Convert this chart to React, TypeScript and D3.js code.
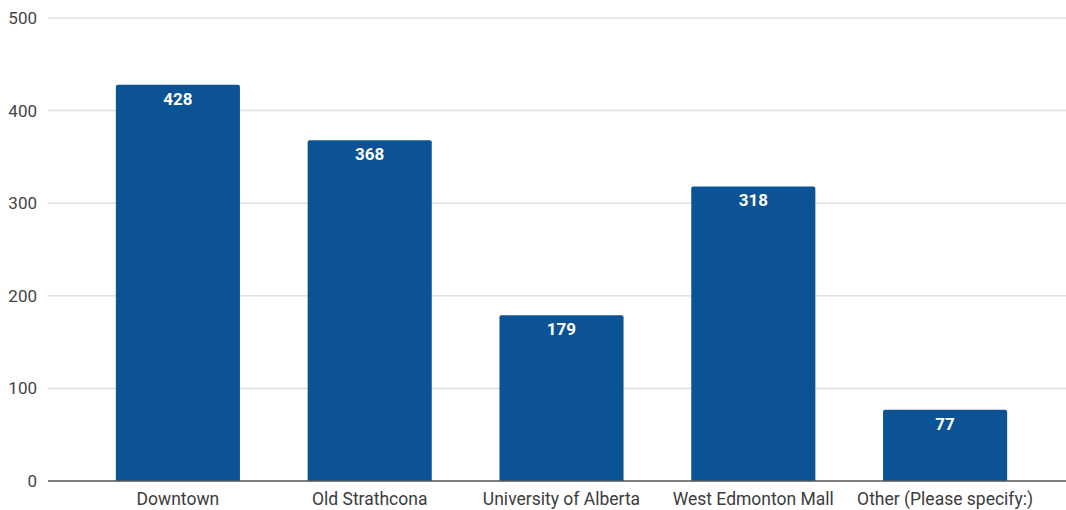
import React from "react";
import * as d3 from "d3";

const categories = [
  "Downtown",
  "Old Strathcona",
  "University of Alberta",
  "West Edmonton Mall",
  "Other (Please specify:)",
];
const counts = [428, 368, 179, 318, 77];
const yTicks = [0, 100, 200, 300, 400, 500];

const W = 1066;
const H = 510;

export default function App() {
  const x = d3
    .scaleBand<string>()
    .domain(categories)
    .range([82, 1041])
    .paddingInner(0.353)
    .paddingOuter(0.1765);
  const y = d3.scaleLinear().domain([0, 500]).range([481, 18]);
  const bw = x.bandwidth();
  const r = 2;

  const barPath = (x0: number, y0: number, w: number, h: number) =>
    `M${x0},${y0 + h}V${y0 + r}Q${x0},${y0} ${x0 + r},${y0}H${x0 + w - r}Q${x0 + w},${y0} ${x0 + w},${y0 + r}V${y0 + h}Z`;

  return (
    <svg
      width={W}
      height={H}
      style={{ position: "absolute", left: 0, top: 0, background: "#fff" }}
      fontFamily="Roboto, sans-serif"
    >
      {yTicks.map((t) => (
        <g key={t}>
          {t !== 0 && (
            <line x1={48} x2={W} y1={y(t)} y2={y(t)} stroke="#e0e0e0" strokeWidth={1.5} />
          )}
          <text x={37} y={y(t)} dy="0.35em" textAnchor="end" fontSize={17} fill="#444">
            {t}
          </text>
        </g>
      ))}
      {categories.map((c, i) => {
        const bx = x(c)!;
        const by = y(counts[i]);
        const bh = y(0) - by;
        return (
          <g key={c}>
            <path d={barPath(bx, by, bw, bh)} fill="#0b5394" />
            <text
              x={bx + bw / 2}
              y={by + 14}
              dy="0.35em"
              textAnchor="middle"
              fontSize={17}
              fontWeight="bold"
              fill="#fff"
            >
              {counts[i]}
            </text>
            <text x={bx + bw / 2} y={499} dy="0.35em" textAnchor="middle" fontSize={17.5} fill="#3c3c3c">
              {c}
            </text>
          </g>
        );
      })}
      <line x1={48} x2={W} y1={y(0)} y2={y(0)} stroke="#555" strokeWidth={1.5} />
    </svg>
  );
}
